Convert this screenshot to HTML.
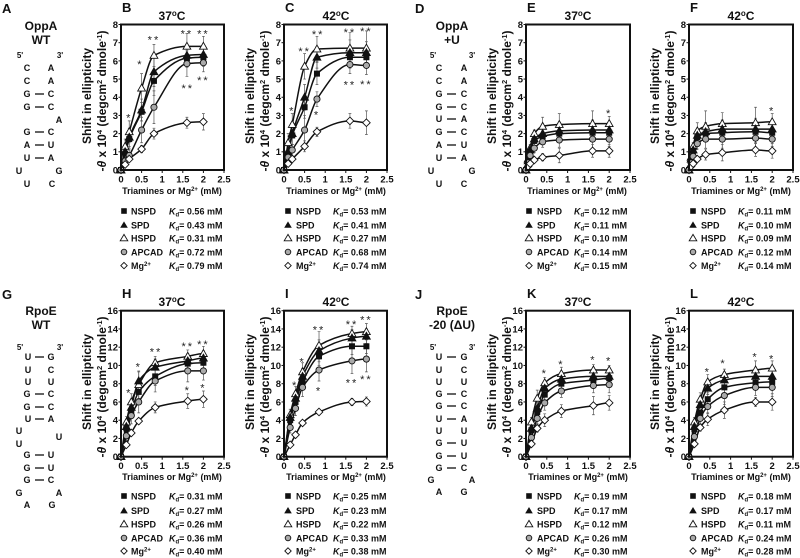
<!DOCTYPE html>
<html lang="en">
<head>
<meta charset="utf-8">
<title>Polyamine binding to RNA: shift in ellipticity</title>
<style>
html,body{margin:0;padding:0;background:#fff;}
svg{display:block;filter:blur(0.35px);}
text{font-family:"Liberation Sans",Arial,sans-serif;font-weight:bold;fill:#111;}
.plet{font-size:13px;}
.ttl{font-size:12px;text-anchor:middle;}
.rt{font-size:12px;text-anchor:middle;}
.n{font-size:9px;text-anchor:middle;}
.e{font-size:8px;text-anchor:middle;}
.lg{font-size:9px;}
.yl{font-size:12px;text-anchor:middle;}
.xl{font-size:9px;text-anchor:middle;}
.bp{stroke:#111;stroke-width:1.3;}
</style>
</head>
<body>
<svg id="figure" width="800" height="558" viewBox="0 0 800 558" xmlns="http://www.w3.org/2000/svg">
<defs>
<g id="lm-nspd"><rect x="-2.8" y="-2.8" width="5.6" height="5.6" fill="#111"/></g>
<g id="lm-spd"><path d="M0,-3.6 L3.8,2.8 L-3.8,2.8 Z" fill="#111"/></g>
<g id="lm-hspd"><path d="M0,-3.6 L3.8,2.8 L-3.8,2.8 Z" fill="#fff" stroke="#111" stroke-width="0.9"/></g>
<g id="lm-apcad"><circle r="2.8" fill="#aaa" stroke="#111" stroke-width="0.9"/></g>
<g id="lm-mg"><path d="M0,-3.2 L3.2,0 L0,3.2 L-3.2,0 Z" fill="#fff" stroke="#111" stroke-width="0.9"/></g>
</defs>

<g>
<text class="plet" x="2" y="13">A</text>
<text class="plet" x="122" y="12">B</text>
<text class="plet" x="285" y="12">C</text>
<text class="plet" x="415" y="13">D</text>
<text class="plet" x="527" y="12">E</text>
<text class="plet" x="690" y="12">F</text>
<text class="plet" x="2" y="299">G</text>
<text class="plet" x="122" y="298">H</text>
<text class="plet" x="285" y="298">I</text>
<text class="plet" x="415" y="299">J</text>
<text class="plet" x="527" y="298">K</text>
<text class="plet" x="690" y="298">L</text>
</g>

<g>
<text class="rt" x="41" y="30">OppA</text><text class="rt" x="41" y="44">WT</text>
<text class="e" x="20" y="58">5'</text><text class="e" x="60" y="58">3'</text>
<text class="n" x="27" y="71">C</text><text class="n" x="51" y="71">A</text>
<text class="n" x="27" y="84">C</text><text class="n" x="51" y="84">A</text>
<text class="n" x="27" y="97">G</text><text class="n" x="51" y="97">C</text><line class="bp" x1="35" x2="44" y1="94" y2="94"/>
<text class="n" x="27" y="110">G</text><text class="n" x="51" y="110">C</text><line class="bp" x1="35" x2="44" y1="107" y2="107"/>
<text class="n" x="59" y="123">A</text>
<text class="n" x="27" y="135">G</text><text class="n" x="51" y="135">C</text><line class="bp" x1="35" x2="44" y1="132" y2="132"/>
<text class="n" x="27" y="148">A</text><text class="n" x="51" y="148">U</text><line class="bp" x1="35" x2="44" y1="145" y2="145"/>
<text class="n" x="27" y="161">U</text><text class="n" x="51" y="161">A</text><line class="bp" x1="35" x2="44" y1="158" y2="158"/>
<text class="n" x="19" y="174">U</text><text class="n" x="59" y="174">G</text>
<text class="n" x="27" y="187">U</text><text class="n" x="52" y="187">C</text>
</g>

<g>
<text class="rt" x="452" y="30">OppA</text><text class="rt" x="452" y="44">+U</text>
<text class="e" x="433" y="58">5'</text><text class="e" x="472" y="58">3'</text>
<text class="n" x="439" y="71">C</text><text class="n" x="464" y="71">A</text>
<text class="n" x="439" y="84">C</text><text class="n" x="464" y="84">A</text>
<text class="n" x="439" y="97">G</text><text class="n" x="464" y="97">C</text><line class="bp" x1="447" x2="456" y1="94" y2="94"/>
<text class="n" x="439" y="110">G</text><text class="n" x="464" y="110">C</text><line class="bp" x1="447" x2="456" y1="107" y2="107"/>
<text class="n" x="439" y="122">U</text><text class="n" x="464" y="122">A</text><line class="bp" x1="447" x2="456" y1="119" y2="119"/>
<text class="n" x="439" y="135">G</text><text class="n" x="464" y="135">C</text><line class="bp" x1="447" x2="456" y1="132" y2="132"/>
<text class="n" x="439" y="148">A</text><text class="n" x="464" y="148">U</text><line class="bp" x1="447" x2="456" y1="145" y2="145"/>
<text class="n" x="439" y="161">U</text><text class="n" x="464" y="161">A</text><line class="bp" x1="447" x2="456" y1="158" y2="158"/>
<text class="n" x="431" y="174">U</text><text class="n" x="472" y="174">G</text>
<text class="n" x="439" y="187">U</text><text class="n" x="464" y="187">C</text>
</g>

<g>
<text class="rt" x="41" y="315">RpoE</text><text class="rt" x="41" y="329">WT</text>
<text class="e" x="20" y="350">5'</text><text class="e" x="60" y="350">3'</text>
<text class="n" x="28" y="360">U</text><text class="n" x="51" y="360">G</text><line class="bp" x1="35" x2="44" y1="357" y2="357"/>
<text class="n" x="28" y="373">U</text><text class="n" x="51" y="373">C</text>
<text class="n" x="28" y="385">U</text><text class="n" x="51" y="385">U</text>
<text class="n" x="27" y="397">G</text><text class="n" x="51" y="397">C</text><line class="bp" x1="35" x2="44" y1="394" y2="394"/>
<text class="n" x="27" y="410">G</text><text class="n" x="51" y="410">C</text><line class="bp" x1="35" x2="44" y1="407" y2="407"/>
<text class="n" x="28" y="422">U</text><text class="n" x="51" y="422">A</text><line class="bp" x1="35" x2="44" y1="419" y2="419"/>
<text class="n" x="19" y="434">U</text><text class="n" x="59" y="440">U</text><text class="n" x="19" y="447">U</text>
<text class="n" x="27" y="458">G</text><text class="n" x="51" y="458">U</text><line class="bp" x1="35" x2="44" y1="455" y2="455"/>
<text class="n" x="27" y="471">G</text><text class="n" x="51" y="471">U</text><line class="bp" x1="35" x2="44" y1="468" y2="468"/>
<text class="n" x="27" y="483">G</text><text class="n" x="51" y="483">C</text><line class="bp" x1="35" x2="44" y1="480" y2="480"/>
<text class="n" x="19" y="496">G</text><text class="n" x="59" y="496">A</text>
<text class="n" x="27" y="508">A</text><text class="n" x="52" y="508">G</text>
</g>

<g>
<text class="rt" x="452" y="315">RpoE</text><text class="rt" x="452" y="329">-20 (ΔU)</text>
<text class="e" x="433" y="350">5'</text><text class="e" x="472" y="350">3'</text>
<text class="n" x="439" y="360">U</text><text class="n" x="464" y="360">G</text><line class="bp" x1="447" x2="456" y1="357" y2="357"/>
<text class="n" x="439" y="373">U</text><text class="n" x="464" y="373">C</text>
<text class="n" x="439" y="385">U</text><text class="n" x="464" y="385">U</text>
<text class="n" x="439" y="397">G</text><text class="n" x="464" y="397">C</text><line class="bp" x1="447" x2="456" y1="394" y2="394"/>
<text class="n" x="439" y="409">G</text><text class="n" x="464" y="409">C</text><line class="bp" x1="447" x2="456" y1="406" y2="406"/>
<text class="n" x="439" y="422">U</text><text class="n" x="464" y="422">A</text><line class="bp" x1="447" x2="456" y1="419" y2="419"/>
<text class="n" x="439" y="434">U</text><text class="n" x="464" y="434">U</text>
<text class="n" x="439" y="446">G</text><text class="n" x="464" y="446">U</text><line class="bp" x1="447" x2="456" y1="443" y2="443"/>
<text class="n" x="439" y="459">G</text><text class="n" x="464" y="459">U</text><line class="bp" x1="447" x2="456" y1="456" y2="456"/>
<text class="n" x="439" y="471">G</text><text class="n" x="464" y="471">C</text><line class="bp" x1="447" x2="456" y1="468" y2="468"/>
<text class="n" x="431" y="483">G</text><text class="n" x="472" y="483">A</text>
<text class="n" x="439" y="495">A</text><text class="n" x="464" y="495">G</text>
</g>

<g>
<text class="ttl" x="172" y="20">37<tspan font-size="8" dy="-4">o</tspan><tspan dy="4">C</tspan></text>
<text class="ttl" x="336" y="20">42<tspan font-size="8" dy="-4">o</tspan><tspan dy="4">C</tspan></text>
<text class="ttl" x="578" y="20">37<tspan font-size="8" dy="-4">o</tspan><tspan dy="4">C</tspan></text>
<text class="ttl" x="741" y="20">42<tspan font-size="8" dy="-4">o</tspan><tspan dy="4">C</tspan></text>
<text class="ttl" x="172" y="306">37<tspan font-size="8" dy="-4">o</tspan><tspan dy="4">C</tspan></text>
<text class="ttl" x="336" y="306">42<tspan font-size="8" dy="-4">o</tspan><tspan dy="4">C</tspan></text>
<text class="ttl" x="578" y="306">37<tspan font-size="8" dy="-4">o</tspan><tspan dy="4">C</tspan></text>
<text class="ttl" x="741" y="306">42<tspan font-size="8" dy="-4">o</tspan><tspan dy="4">C</tspan></text>
</g>

<g>
<text class="yl" transform="translate(91,96) rotate(-90)">Shift in ellipticity</text>
<text class="yl" transform="translate(106,101) rotate(-90)">-<tspan font-style="italic">θ</tspan> x 10<tspan font-size="7.5" dy="-4">4</tspan><tspan dy="4"> (degcm</tspan><tspan font-size="7.5" dy="-4">2</tspan><tspan dy="4"> dmole</tspan><tspan font-size="7.5" dy="-4">-1</tspan><tspan dy="4">)</tspan></text>
<text class="yl" transform="translate(254,96) rotate(-90)">Shift in ellipticity</text>
<text class="yl" transform="translate(269,101) rotate(-90)">-<tspan font-style="italic">θ</tspan> x 10<tspan font-size="7.5" dy="-4">4</tspan><tspan dy="4"> (degcm</tspan><tspan font-size="7.5" dy="-4">2</tspan><tspan dy="4"> dmole</tspan><tspan font-size="7.5" dy="-4">-1</tspan><tspan dy="4">)</tspan></text>
<text class="yl" transform="translate(496,96) rotate(-90)">Shift in ellipticity</text>
<text class="yl" transform="translate(511,101) rotate(-90)">-<tspan font-style="italic">θ</tspan> x 10<tspan font-size="7.5" dy="-4">4</tspan><tspan dy="4"> (degcm</tspan><tspan font-size="7.5" dy="-4">2</tspan><tspan dy="4"> dmole</tspan><tspan font-size="7.5" dy="-4">-1</tspan><tspan dy="4">)</tspan></text>
<text class="yl" transform="translate(659,96) rotate(-90)">Shift in ellipticity</text>
<text class="yl" transform="translate(674,101) rotate(-90)">-<tspan font-style="italic">θ</tspan> x 10<tspan font-size="7.5" dy="-4">4</tspan><tspan dy="4"> (degcm</tspan><tspan font-size="7.5" dy="-4">2</tspan><tspan dy="4"> dmole</tspan><tspan font-size="7.5" dy="-4">-1</tspan><tspan dy="4">)</tspan></text>
<text class="yl" transform="translate(91,382) rotate(-90)">Shift in ellipticity</text>
<text class="yl" transform="translate(106,387) rotate(-90)">-<tspan font-style="italic">θ</tspan> x 10<tspan font-size="7.5" dy="-4">4</tspan><tspan dy="4"> (degcm</tspan><tspan font-size="7.5" dy="-4">2</tspan><tspan dy="4"> dmole</tspan><tspan font-size="7.5" dy="-4">-1</tspan><tspan dy="4">)</tspan></text>
<text class="yl" transform="translate(254,382) rotate(-90)">Shift in ellipticity</text>
<text class="yl" transform="translate(269,387) rotate(-90)">-<tspan font-style="italic">θ</tspan> x 10<tspan font-size="7.5" dy="-4">4</tspan><tspan dy="4"> (degcm</tspan><tspan font-size="7.5" dy="-4">2</tspan><tspan dy="4"> dmole</tspan><tspan font-size="7.5" dy="-4">-1</tspan><tspan dy="4">)</tspan></text>
<text class="yl" transform="translate(496,382) rotate(-90)">Shift in ellipticity</text>
<text class="yl" transform="translate(511,387) rotate(-90)">-<tspan font-style="italic">θ</tspan> x 10<tspan font-size="7.5" dy="-4">4</tspan><tspan dy="4"> (degcm</tspan><tspan font-size="7.5" dy="-4">2</tspan><tspan dy="4"> dmole</tspan><tspan font-size="7.5" dy="-4">-1</tspan><tspan dy="4">)</tspan></text>
<text class="yl" transform="translate(659,382) rotate(-90)">Shift in ellipticity</text>
<text class="yl" transform="translate(674,387) rotate(-90)">-<tspan font-style="italic">θ</tspan> x 10<tspan font-size="7.5" dy="-4">4</tspan><tspan dy="4"> (degcm</tspan><tspan font-size="7.5" dy="-4">2</tspan><tspan dy="4"> dmole</tspan><tspan font-size="7.5" dy="-4">-1</tspan><tspan dy="4">)</tspan></text>
</g>

<g>
<text class="xl" x="172" y="194">Triamines or Mg<tspan font-size="6" dy="-3">2+</tspan><tspan dy="3"> (mM)</tspan></text>
<text class="xl" x="336" y="194">Triamines or Mg<tspan font-size="6" dy="-3">2+</tspan><tspan dy="3"> (mM)</tspan></text>
<text class="xl" x="577" y="194">Triamines or Mg<tspan font-size="6" dy="-3">2+</tspan><tspan dy="3"> (mM)</tspan></text>
<text class="xl" x="741" y="194">Triamines or Mg<tspan font-size="6" dy="-3">2+</tspan><tspan dy="3"> (mM)</tspan></text>
<text class="xl" x="172" y="480">Triamines or Mg<tspan font-size="6" dy="-3">2+</tspan><tspan dy="3"> (mM)</tspan></text>
<text class="xl" x="336" y="480">Triamines or Mg<tspan font-size="6" dy="-3">2+</tspan><tspan dy="3"> (mM)</tspan></text>
<text class="xl" x="578" y="480">Triamines or Mg<tspan font-size="6" dy="-3">2+</tspan><tspan dy="3"> (mM)</tspan></text>
<text class="xl" x="741" y="480">Triamines or Mg<tspan font-size="6" dy="-3">2+</tspan><tspan dy="3"> (mM)</tspan></text>
</g>

<g class="lg">
<use href="#lm-nspd" x="124" y="211"/><text class="lg" x="131" y="214.3">NSPD</text><text class="lg" x="169" y="214.3"><tspan font-style="italic">K</tspan><tspan font-size="6" dy="2">d</tspan><tspan dy="-2">= 0.56 mM</tspan></text>
<use href="#lm-spd" x="124" y="225"/><text class="lg" x="131" y="228.3">SPD</text><text class="lg" x="169" y="228.3"><tspan font-style="italic">K</tspan><tspan font-size="6" dy="2">d</tspan><tspan dy="-2">= 0.43 mM</tspan></text>
<use href="#lm-hspd" x="124" y="238"/><text class="lg" x="131" y="241.3">HSPD</text><text class="lg" x="169" y="241.3"><tspan font-style="italic">K</tspan><tspan font-size="6" dy="2">d</tspan><tspan dy="-2">= 0.31 mM</tspan></text>
<use href="#lm-apcad" x="124" y="252"/><text class="lg" x="131" y="255.3">APCAD</text><text class="lg" x="169" y="255.3"><tspan font-style="italic">K</tspan><tspan font-size="6" dy="2">d</tspan><tspan dy="-2">= 0.72 mM</tspan></text>
<use href="#lm-mg" x="124" y="265.6"/><text class="lg" x="131" y="268.9">Mg<tspan font-size="6" dy="-3">2+</tspan></text><text class="lg" x="169" y="268.9"><tspan font-style="italic">K</tspan><tspan font-size="6" dy="2">d</tspan><tspan dy="-2">= 0.79 mM</tspan></text>
</g>
<g>
<use href="#lm-nspd" x="288" y="211"/><text class="lg" x="296" y="214.3">NSPD</text><text class="lg" x="333" y="214.3"><tspan font-style="italic">K</tspan><tspan font-size="6" dy="2">d</tspan><tspan dy="-2">= 0.53 mM</tspan></text>
<use href="#lm-spd" x="288" y="225"/><text class="lg" x="296" y="228.3">SPD</text><text class="lg" x="333" y="228.3"><tspan font-style="italic">K</tspan><tspan font-size="6" dy="2">d</tspan><tspan dy="-2">= 0.41 mM</tspan></text>
<use href="#lm-hspd" x="288" y="238"/><text class="lg" x="296" y="241.3">HSPD</text><text class="lg" x="333" y="241.3"><tspan font-style="italic">K</tspan><tspan font-size="6" dy="2">d</tspan><tspan dy="-2">= 0.27 mM</tspan></text>
<use href="#lm-apcad" x="288" y="252"/><text class="lg" x="296" y="255.3">APCAD</text><text class="lg" x="333" y="255.3"><tspan font-style="italic">K</tspan><tspan font-size="6" dy="2">d</tspan><tspan dy="-2">= 0.68 mM</tspan></text>
<use href="#lm-mg" x="288" y="265.6"/><text class="lg" x="296" y="268.9">Mg<tspan font-size="6" dy="-3">2+</tspan></text><text class="lg" x="333" y="268.9"><tspan font-style="italic">K</tspan><tspan font-size="6" dy="2">d</tspan><tspan dy="-2">= 0.74 mM</tspan></text>
</g>
<g>
<use href="#lm-nspd" x="529" y="211"/><text class="lg" x="537" y="214.3">NSPD</text><text class="lg" x="574" y="214.3"><tspan font-style="italic">K</tspan><tspan font-size="6" dy="2">d</tspan><tspan dy="-2">= 0.12 mM</tspan></text>
<use href="#lm-spd" x="529" y="225"/><text class="lg" x="537" y="228.3">SPD</text><text class="lg" x="574" y="228.3"><tspan font-style="italic">K</tspan><tspan font-size="6" dy="2">d</tspan><tspan dy="-2">= 0.11 mM</tspan></text>
<use href="#lm-hspd" x="529" y="238"/><text class="lg" x="537" y="241.3">HSPD</text><text class="lg" x="574" y="241.3"><tspan font-style="italic">K</tspan><tspan font-size="6" dy="2">d</tspan><tspan dy="-2">= 0.10 mM</tspan></text>
<use href="#lm-apcad" x="529" y="252"/><text class="lg" x="537" y="255.3">APCAD</text><text class="lg" x="574" y="255.3"><tspan font-style="italic">K</tspan><tspan font-size="6" dy="2">d</tspan><tspan dy="-2">= 0.14 mM</tspan></text>
<use href="#lm-mg" x="529" y="265.6"/><text class="lg" x="537" y="268.9">Mg<tspan font-size="6" dy="-3">2+</tspan></text><text class="lg" x="574" y="268.9"><tspan font-style="italic">K</tspan><tspan font-size="6" dy="2">d</tspan><tspan dy="-2">= 0.15 mM</tspan></text>
</g>
<g>
<use href="#lm-nspd" x="693" y="211"/><text class="lg" x="701" y="214.3">NSPD</text><text class="lg" x="738" y="214.3"><tspan font-style="italic">K</tspan><tspan font-size="6" dy="2">d</tspan><tspan dy="-2">= 0.11 mM</tspan></text>
<use href="#lm-spd" x="693" y="225"/><text class="lg" x="701" y="228.3">SPD</text><text class="lg" x="738" y="228.3"><tspan font-style="italic">K</tspan><tspan font-size="6" dy="2">d</tspan><tspan dy="-2">= 0.10 mM</tspan></text>
<use href="#lm-hspd" x="693" y="238"/><text class="lg" x="701" y="241.3">HSPD</text><text class="lg" x="738" y="241.3"><tspan font-style="italic">K</tspan><tspan font-size="6" dy="2">d</tspan><tspan dy="-2">= 0.09 mM</tspan></text>
<use href="#lm-apcad" x="693" y="252"/><text class="lg" x="701" y="255.3">APCAD</text><text class="lg" x="738" y="255.3"><tspan font-style="italic">K</tspan><tspan font-size="6" dy="2">d</tspan><tspan dy="-2">= 0.12 mM</tspan></text>
<use href="#lm-mg" x="693" y="265.6"/><text class="lg" x="701" y="268.9">Mg<tspan font-size="6" dy="-3">2+</tspan></text><text class="lg" x="738" y="268.9"><tspan font-style="italic">K</tspan><tspan font-size="6" dy="2">d</tspan><tspan dy="-2">= 0.14 mM</tspan></text>
</g>
<g>
<use href="#lm-nspd" x="124" y="496"/><text class="lg" x="131" y="499.3">NSPD</text><text class="lg" x="169" y="499.3"><tspan font-style="italic">K</tspan><tspan font-size="6" dy="2">d</tspan><tspan dy="-2">= 0.31 mM</tspan></text>
<use href="#lm-spd" x="124" y="510.6"/><text class="lg" x="131" y="513.9">SPD</text><text class="lg" x="169" y="513.9"><tspan font-style="italic">K</tspan><tspan font-size="6" dy="2">d</tspan><tspan dy="-2">= 0.27 mM</tspan></text>
<use href="#lm-hspd" x="124" y="524"/><text class="lg" x="131" y="527.3">HSPD</text><text class="lg" x="169" y="527.3"><tspan font-style="italic">K</tspan><tspan font-size="6" dy="2">d</tspan><tspan dy="-2">= 0.26 mM</tspan></text>
<use href="#lm-apcad" x="124" y="538"/><text class="lg" x="131" y="541.3">APCAD</text><text class="lg" x="169" y="541.3"><tspan font-style="italic">K</tspan><tspan font-size="6" dy="2">d</tspan><tspan dy="-2">= 0.36 mM</tspan></text>
<use href="#lm-mg" x="124" y="551"/><text class="lg" x="131" y="554.3">Mg<tspan font-size="6" dy="-3">2+</tspan></text><text class="lg" x="169" y="554.3"><tspan font-style="italic">K</tspan><tspan font-size="6" dy="2">d</tspan><tspan dy="-2">= 0.40 mM</tspan></text>
</g>
<g>
<use href="#lm-nspd" x="288" y="496"/><text class="lg" x="296" y="499.3">NSPD</text><text class="lg" x="333" y="499.3"><tspan font-style="italic">K</tspan><tspan font-size="6" dy="2">d</tspan><tspan dy="-2">= 0.25 mM</tspan></text>
<use href="#lm-spd" x="288" y="510.6"/><text class="lg" x="296" y="513.9">SPD</text><text class="lg" x="333" y="513.9"><tspan font-style="italic">K</tspan><tspan font-size="6" dy="2">d</tspan><tspan dy="-2">= 0.23 mM</tspan></text>
<use href="#lm-hspd" x="288" y="524"/><text class="lg" x="296" y="527.3">HSPD</text><text class="lg" x="333" y="527.3"><tspan font-style="italic">K</tspan><tspan font-size="6" dy="2">d</tspan><tspan dy="-2">= 0.22 mM</tspan></text>
<use href="#lm-apcad" x="288" y="538"/><text class="lg" x="296" y="541.3">APCAD</text><text class="lg" x="333" y="541.3"><tspan font-style="italic">K</tspan><tspan font-size="6" dy="2">d</tspan><tspan dy="-2">= 0.33 mM</tspan></text>
<use href="#lm-mg" x="288" y="551"/><text class="lg" x="296" y="554.3">Mg<tspan font-size="6" dy="-3">2+</tspan></text><text class="lg" x="333" y="554.3"><tspan font-style="italic">K</tspan><tspan font-size="6" dy="2">d</tspan><tspan dy="-2">= 0.38 mM</tspan></text>
</g>
<g>
<use href="#lm-nspd" x="529" y="496"/><text class="lg" x="537" y="499.3">NSPD</text><text class="lg" x="574" y="499.3"><tspan font-style="italic">K</tspan><tspan font-size="6" dy="2">d</tspan><tspan dy="-2">= 0.19 mM</tspan></text>
<use href="#lm-spd" x="529" y="510.6"/><text class="lg" x="537" y="513.9">SPD</text><text class="lg" x="574" y="513.9"><tspan font-style="italic">K</tspan><tspan font-size="6" dy="2">d</tspan><tspan dy="-2">= 0.17 mM</tspan></text>
<use href="#lm-hspd" x="529" y="524"/><text class="lg" x="537" y="527.3">HSPD</text><text class="lg" x="574" y="527.3"><tspan font-style="italic">K</tspan><tspan font-size="6" dy="2">d</tspan><tspan dy="-2">= 0.12 mM</tspan></text>
<use href="#lm-apcad" x="529" y="538"/><text class="lg" x="537" y="541.3">APCAD</text><text class="lg" x="574" y="541.3"><tspan font-style="italic">K</tspan><tspan font-size="6" dy="2">d</tspan><tspan dy="-2">= 0.26 mM</tspan></text>
<use href="#lm-mg" x="529" y="551"/><text class="lg" x="537" y="554.3">Mg<tspan font-size="6" dy="-3">2+</tspan></text><text class="lg" x="574" y="554.3"><tspan font-style="italic">K</tspan><tspan font-size="6" dy="2">d</tspan><tspan dy="-2">= 0.30 mM</tspan></text>
</g>
<g>
<use href="#lm-nspd" x="693" y="496"/><text class="lg" x="701" y="499.3">NSPD</text><text class="lg" x="738" y="499.3"><tspan font-style="italic">K</tspan><tspan font-size="6" dy="2">d</tspan><tspan dy="-2">= 0.18 mM</tspan></text>
<use href="#lm-spd" x="693" y="510.6"/><text class="lg" x="701" y="513.9">SPD</text><text class="lg" x="738" y="513.9"><tspan font-style="italic">K</tspan><tspan font-size="6" dy="2">d</tspan><tspan dy="-2">= 0.17 mM</tspan></text>
<use href="#lm-hspd" x="693" y="524"/><text class="lg" x="701" y="527.3">HSPD</text><text class="lg" x="738" y="527.3"><tspan font-style="italic">K</tspan><tspan font-size="6" dy="2">d</tspan><tspan dy="-2">= 0.11 mM</tspan></text>
<use href="#lm-apcad" x="693" y="538"/><text class="lg" x="701" y="541.3">APCAD</text><text class="lg" x="738" y="541.3"><tspan font-style="italic">K</tspan><tspan font-size="6" dy="2">d</tspan><tspan dy="-2">= 0.24 mM</tspan></text>
<use href="#lm-mg" x="693" y="551"/><text class="lg" x="701" y="554.3">Mg<tspan font-size="6" dy="-3">2+</tspan></text><text class="lg" x="738" y="554.3"><tspan font-style="italic">K</tspan><tspan font-size="6" dy="2">d</tspan><tspan dy="-2">= 0.28 mM</tspan></text>
</g>

<g id="charts"></g>
</svg>

<script>
// Shared tick values
const xTicks = [0, 0.5, 1, 1.5, 2, 2.5];
const xTickLabels = ['0', '0.5', '1', '1.5', '2', '2.5'];
const yTicksTop = [0, 1, 2, 3, 4, 5, 6, 7, 8];
const yTicksBottom = [0, 2, 4, 6, 8, 10, 12, 14, 16];

// Panel B
const concB = [0, 0.1, 0.2, 0.5, 0.8, 1.6, 2];
const nspdB = [0, 0.9, 1.7, 3.2, 4.9, 6.15, 6.2];
const spdB = [0, 1.0, 1.8, 3.3, 5.4, 6.3, 6.35];
const hspdB = [0, 1.3, 2.1, 4.5, 6.3, 6.8, 6.8];
const apcadB = [0, 0.5, 0.8, 2.2, 3.45, 5.85, 5.9];
const mgB = [0, 0.3, 0.6, 1.15, 2.0, 2.6, 2.65];
const nspdErrB = [0, 0.3, 0.5, 0.5, 0.8, 0.5, 0.5];
const spdErrB = [0, 0.3, 0.5, 0.6, 0.8, 0.6, 0.5];
const hspdErrB = [0, 0.4, 0.6, 0.8, 0.6, 0.7, 0.55];
const apcadErrB = [0, 0.2, 0.3, 0.7, 0.9, 0.7, 0.5];
const mgErrB = [0, 0.1, 0.15, 0.2, 0.3, 0.3, 0.45];
const starXB = [0.2, 0.47, 0.8, 1.6, 2, 1.62, 2];
const starYB = [3.0, 5.94, 7.3, 7.63, 7.63, 4.63, 5.06];
const starTextB = ['*', '*', '**', '**', '**', '**', '**'];

// Panel C
const concC = [0, 0.1, 0.2, 0.5, 0.8, 1.6, 2];
const nspdC = [0, 0.9, 1.9, 3.45, 5.3, 6.2, 6.2];
const spdC = [0, 1.0, 2.0, 4.0, 6.2, 6.45, 6.45];
const hspdC = [0, 1.5, 2.5, 5.7, 6.65, 6.7, 6.7];
const apcadC = [0, 0.7, 1.1, 2.2, 3.9, 5.8, 5.75];
const mgC = [0, 0.35, 0.6, 1.3, 2.1, 2.7, 2.6];
const nspdErrC = [0, 0.3, 0.5, 0.6, 0.6, 0.6, 0.6];
const spdErrC = [0, 0.4, 0.6, 0.7, 0.6, 0.7, 0.6];
const hspdErrC = [0, 0.5, 0.6, 0.7, 0.7, 0.85, 0.95];
const apcadErrC = [0, 0.2, 0.3, 0.8, 0.4, 0.5, 0.5];
const mgErrC = [0, 0.1, 0.15, 0.3, 0.25, 0.4, 0.65];
const starXC = [0.2, 0.5, 0.83, 1.6, 2, 0.8, 1.6, 2];
const starYC = [3.4, 6.66, 7.6, 7.72, 7.76, 3.16, 4.82, 4.85];
const starTextC = ['*', '**', '**', '**', '**', '*', '**', '**'];

// Panel E
const concE = [0, 0.05, 0.1, 0.2, 0.4, 0.8, 1.6, 2];
const nspdE = [0, 0.5, 1.0, 1.6, 1.85, 2.0, 2.05, 2.05];
const spdE = [0, 0.5, 1.1, 1.7, 2.0, 2.15, 2.2, 2.2];
const hspdE = [0, 0.6, 1.2, 2.0, 2.4, 2.5, 2.55, 2.55];
const apcadE = [0, 0.4, 0.8, 1.2, 1.55, 1.65, 1.7, 1.7];
const mgE = [0, 0.2, 0.35, 0.55, 0.7, 0.8, 1.05, 1.05];
const nspdErrE = [0, 0.1, 0.2, 0.25, 0.3, 0.4, 0.5, 0.4];
const spdErrE = [0, 0.1, 0.2, 0.25, 0.35, 0.45, 0.55, 0.4];
const hspdErrE = [0, 0.1, 0.2, 0.2, 0.5, 0.6, 0.7, 0.4];
const apcadErrE = [0, 0.1, 0.15, 0.25, 0.3, 0.4, 0.5, 0.4];
const mgErrE = [0, 0.05, 0.1, 0.15, 0.2, 0.4, 0.35, 0.35];
const starXE = [2];
const starYE = [3.25];
const starTextE = ['*'];

// Panel F
const concF = [0, 0.05, 0.1, 0.2, 0.4, 0.8, 1.6, 2];
const nspdF = [0, 0.5, 1.05, 1.8, 2.0, 2.05, 2.1, 2.05];
const spdF = [0, 0.6, 1.1, 1.9, 2.1, 2.25, 2.25, 2.25];
const hspdF = [0, 0.7, 1.3, 2.15, 2.4, 2.55, 2.6, 2.65];
const apcadF = [0, 0.4, 0.75, 1.45, 1.7, 1.7, 1.75, 1.7];
const mgF = [0, 0.2, 0.35, 0.6, 0.85, 0.95, 1.1, 1.05];
const nspdErrF = [0, 0.1, 0.2, 0.3, 0.4, 0.5, 0.6, 0.5];
const spdErrF = [0, 0.1, 0.2, 0.3, 0.5, 0.5, 0.6, 0.5];
const hspdErrF = [0, 0.1, 0.2, 0.45, 0.85, 0.6, 0.85, 0.45];
const apcadErrF = [0, 0.1, 0.15, 0.3, 0.5, 0.5, 0.5, 0.4];
const mgErrF = [0, 0.05, 0.1, 0.15, 0.3, 0.45, 0.35, 0.4];
const starXF = [2];
const starYF = [3.4];
const starTextF = ['*'];

// Panel H
const concH = [0, 0.13, 0.25, 0.43, 0.83, 1.62, 2];
const nspdH = [0, 3.1, 5.0, 7.1, 8.8, 10.2, 10.3];
const spdH = [0, 3.3, 5.4, 8.3, 9.8, 10.5, 10.8];
const hspdH = [0, 3.8, 6.0, 7.9, 10.3, 11.0, 11.3];
const apcadH = [0, 2.3, 4.5, 6.0, 8.3, 9.4, 9.4];
const mgH = [0, 1.3, 2.6, 3.9, 5.4, 6.1, 6.3];
const nspdErrH = [0, 0.5, 0.8, 1.0, 1.0, 0.8, 0.8];
const spdErrH = [0, 0.5, 0.8, 1.0, 0.9, 0.8, 0.8];
const hspdErrH = [0, 0.6, 0.9, 1.5, 0.7, 0.7, 0.8];
const apcadErrH = [0, 0.5, 0.9, 1.2, 1.2, 1.2, 1.0];
const mgErrH = [0, 0.3, 0.3, 0.3, 0.6, 0.8, 0.9];
const starXH = [0.2, 0.43, 0.85, 1.62, 2, 1.62, 2];
const starYH = [7.3, 10.1, 11.75, 12.4, 12.6, 7.55, 7.85];
const starTextH = ['*', '*', '**', '**', '**', '*', '*'];

// Panel I
const concI = [0, 0.15, 0.28, 0.45, 0.85, 1.65, 2];
const nspdI = [0, 4.0, 6.0, 8.2, 11.0, 12.1, 12.1];
const spdI = [0, 4.3, 6.4, 8.8, 11.6, 13.0, 13.2];
const hspdI = [0, 4.6, 6.9, 9.3, 12.2, 13.5, 13.7];
const apcadI = [0, 3.2, 5.3, 7.6, 9.5, 10.5, 10.7];
const mgI = [0, 1.3, 2.4, 3.7, 4.9, 6.0, 6.05];
const nspdErrI = [0, 0.5, 0.7, 0.9, 1.0, 0.9, 0.8];
const spdErrI = [0, 0.5, 0.7, 0.9, 1.2, 0.9, 0.8];
const hspdErrI = [0, 0.6, 0.8, 1.0, 1.5, 0.8, 0.9];
const apcadErrI = [0, 0.6, 0.8, 1.0, 1.2, 1.4, 1.4];
const mgErrI = [0, 0.2, 0.2, 0.2, 0.3, 0.4, 0.5];
const starXI = [0.27, 0.45, 0.85, 1.65, 2, 0.85, 1.65, 2];
const starYI = [8.1, 10.65, 14.2, 14.8, 15.25, 7.5, 8.4, 8.75];
const starTextI = ['*', '*', '**', '**', '**', '*', '**', '**'];

// Panel K
const concK = [0, 0.13, 0.27, 0.45, 0.85, 1.62, 2];
const nspdK = [0, 2.9, 4.9, 6.8, 8.0, 8.4, 8.6];
const spdK = [0, 3.1, 5.3, 7.5, 8.5, 8.8, 8.8];
const hspdK = [0, 3.8, 6.4, 8.1, 9.1, 9.5, 9.5];
const apcadK = [0, 2.1, 4.2, 5.9, 7.2, 7.8, 7.9];
const mgK = [0, 1.4, 3.1, 4.0, 5.0, 5.6, 5.9];
const nspdErrK = [0, 0.4, 0.6, 0.7, 0.6, 0.7, 0.7];
const spdErrK = [0, 0.4, 0.6, 0.7, 0.6, 0.7, 0.6];
const hspdErrK = [0, 0.5, 0.9, 0.6, 0.7, 0.6, 0.5];
const apcadErrK = [0, 0.4, 0.6, 0.8, 0.7, 0.8, 0.9];
const mgErrK = [0, 0.3, 0.4, 0.7, 0.7, 1.0, 0.8];
const starXK = [0.45, 0.85, 1.62, 2];
const starYK = [9.4, 10.4, 10.9, 10.8];
const starTextK = ['*', '*', '*', '*'];

// Panel L
const concL = [0, 0.13, 0.27, 0.45, 0.85, 1.6, 2];
const nspdL = [0, 3.0, 4.8, 6.3, 7.6, 8.1, 8.2];
const spdL = [0, 3.3, 5.7, 7.5, 8.4, 8.8, 8.8];
const hspdL = [0, 3.8, 6.3, 8.2, 9.0, 9.5, 9.7];
const apcadL = [0, 2.2, 4.2, 5.5, 6.7, 7.6, 7.6];
const mgL = [0, 1.4, 3.2, 4.1, 5.1, 6.0, 6.0];
const nspdErrL = [0, 0.4, 0.6, 0.7, 0.7, 0.8, 0.8];
const spdErrL = [0, 0.4, 0.6, 0.7, 0.7, 0.8, 0.8];
const hspdErrL = [0, 0.5, 0.7, 0.8, 0.6, 1.0, 0.8];
const apcadErrL = [0, 0.4, 0.6, 0.8, 1.0, 0.9, 1.0];
const mgErrL = [0, 0.3, 0.4, 0.7, 0.9, 0.5, 0.9];
const starXL = [0.45, 0.83, 1.6, 2];
const starYL = [9.6, 10.5, 11.2, 11.0];
const starTextL = ['*', '*', '*', '*'];

const SVGNS = 'http://www.w3.org/2000/svg';
const INK = '#111';
const seriesKinds = ['hspd', 'spd', 'nspd', 'apcad', 'mg'];

function mk(tag, parent) {
  const node = document.createElementNS(SVGNS, tag);
  parent.appendChild(node);
  return node;
}

// Monotone cubic path through the data points
function curvePath(px, py) {
  const n = px.length;
  const d = [], m = new Array(n);
  for (let i = 0; i < n - 1; i++) d.push((py[i + 1] - py[i]) / (px[i + 1] - px[i]));
  m[0] = d[0];
  m[n - 1] = 0;
  for (let i = 1; i < n - 1; i++) {
    m[i] = d[i - 1] * d[i] <= 0 ? 0 : 2 * d[i - 1] * d[i] / (d[i - 1] + d[i]);
  }
  let path = 'M' + px[0].toFixed(2) + ',' + py[0].toFixed(2);
  for (let i = 0; i < n - 1; i++) {
    const h = (px[i + 1] - px[i]) / 3;
    path += 'C' + (px[i] + h).toFixed(2) + ',' + (py[i] + m[i] * h).toFixed(2) + ' ' +
      (px[i + 1] - h).toFixed(2) + ',' + (py[i + 1] - m[i + 1] * h).toFixed(2) + ' ' +
      px[i + 1].toFixed(2) + ',' + py[i + 1].toFixed(2);
  }
  return path;
}

function drawMarker(kind, cx, cy, parent) {
  let m;
  if (kind === 'nspd') {
    m = mk('rect', parent);
    m.setAttribute('x', cx - 3);
    m.setAttribute('y', cy - 3);
    m.setAttribute('width', 6);
    m.setAttribute('height', 6);
    m.setAttribute('fill', INK);
  } else if (kind === 'spd' || kind === 'hspd') {
    m = mk('path', parent);
    m.setAttribute('d', 'M' + cx + ',' + (cy - 4) + 'L' + (cx + 3.9) + ',' + (cy + 2.9) + 'L' + (cx - 3.9) + ',' + (cy + 2.9) + 'Z');
    m.setAttribute('fill', kind === 'spd' ? INK : '#fff');
    m.setAttribute('stroke', INK);
    m.setAttribute('stroke-width', 0.9);
  } else if (kind === 'apcad') {
    m = mk('circle', parent);
    m.setAttribute('cx', cx);
    m.setAttribute('cy', cy);
    m.setAttribute('r', 3.1);
    m.setAttribute('fill', '#aaa');
    m.setAttribute('stroke', INK);
    m.setAttribute('stroke-width', 0.9);
  } else {
    m = mk('path', parent);
    m.setAttribute('d', 'M' + cx + ',' + (cy - 3.8) + 'L' + (cx + 3.8) + ',' + cy + 'L' + cx + ',' + (cy + 3.8) + 'L' + (cx - 3.8) + ',' + cy + 'Z');
    m.setAttribute('fill', '#fff');
    m.setAttribute('stroke', INK);
    m.setAttribute('stroke-width', 0.9);
  }
  
  
}

function drawPanel(id, left, right, top, bottom, yMax, yTicks, conc, series, errors, starX, starY, starText) {
  const root = document.getElementById('charts');
  const g = mk('g', root);
  
  

  const xScale = v => left + (v / 2.5) * (right - left);
  const yScale = v => bottom - (v / yMax) * (bottom - top);

  // Error bars
  for (let s = 0; s < seriesKinds.length; s++) {
    for (let i = 0; i < conc.length; i++) {
      const hi = yScale(series[s][i] + errors[s][i]);
      const lo = yScale(series[s][i] - errors[s][i]);
      const ex = xScale(conc[i]);
      if (errors[s][i] <= 0) continue;
      const eb = mk('path', g);
      eb.setAttribute('d', 'M' + ex + ',' + hi + 'V' + lo + 'M' + (ex - 1.4) + ',' + hi + 'H' + (ex + 1.4) + 'M' + (ex - 1.4) + ',' + lo + 'H' + (ex + 1.4));
      eb.setAttribute('stroke', '#555');
      eb.setAttribute('stroke-width', 0.7);
      eb.setAttribute('fill', 'none');
      
      
    }
  }

  // Curves
  for (let s = 0; s < seriesKinds.length; s++) {
    const curve = mk('path', g);
    curve.setAttribute('d', curvePath(conc.map(xScale), series[s].map(yScale)));
    curve.setAttribute('fill', 'none');
    curve.setAttribute('stroke', INK);
    curve.setAttribute('stroke-width', 1.5);
    
    
  }

  // Markers
  for (let s = 0; s < seriesKinds.length; s++) {
    for (let i = 0; i < conc.length; i++) {
      drawMarker(seriesKinds[s], xScale(conc[i]), yScale(series[s][i]), g);
    }
  }

  // Frame
  const frame = mk('rect', g);
  frame.setAttribute('x', left);
  frame.setAttribute('y', top);
  frame.setAttribute('width', right - left);
  frame.setAttribute('height', bottom - top);
  frame.setAttribute('fill', 'none');
  frame.setAttribute('stroke', '#111');
  frame.setAttribute('stroke-width', 2);
  
  

  // X ticks
  for (let i = 0; i < xTicks.length; i++) {
    const tick = mk('line', g);
    tick.setAttribute('x1', xScale(xTicks[i]));
    tick.setAttribute('x2', xScale(xTicks[i]));
    tick.setAttribute('y1', bottom);
    tick.setAttribute('y2', bottom + 3);
    tick.setAttribute('stroke', INK);
    tick.setAttribute('stroke-width', 1);
    
    
    const label = mk('text', g);
    label.setAttribute('x', xScale(xTicks[i]));
    label.setAttribute('y', bottom + 12.5);
    label.setAttribute('text-anchor', 'middle');
    label.setAttribute('font-size', '9.5');
    label.textContent = xTickLabels[i];
    
    
  }

  // Y ticks
  for (let i = 0; i < yTicks.length; i++) {
    const tick = mk('line', g);
    tick.setAttribute('x1', left - 2.5);
    tick.setAttribute('x2', left);
    tick.setAttribute('y1', yScale(yTicks[i]));
    tick.setAttribute('y2', yScale(yTicks[i]));
    tick.setAttribute('stroke', INK);
    tick.setAttribute('stroke-width', 1);
    
    
    const label = mk('text', g);
    label.setAttribute('x', left - 3);
    label.setAttribute('y', yScale(yTicks[i]) + 3.4);
    label.setAttribute('text-anchor', 'end');
    label.setAttribute('font-size', '9.5');
    label.textContent = String(yTicks[i]);
    
    
  }

  // Significance stars
  for (let i = 0; i < starX.length; i++) {
    const star = mk('text', g);
    star.setAttribute('x', xScale(starX[i]));
    star.setAttribute('y', yScale(starY[i]) + 6.2);
    star.setAttribute('text-anchor', 'middle');
    star.setAttribute('font-size', '11');
    star.setAttribute('letter-spacing', '2');
    star.style.fontWeight = 'normal';
    star.style.fill = '#222';
    star.textContent = starText[i];
    
    
  }
}

drawPanel('b', 121, 224, 24.5, 170, 8, yTicksTop, concB,
  [hspdB, spdB, nspdB, apcadB, mgB], [hspdErrB, spdErrB, nspdErrB, apcadErrB, mgErrB], starXB, starYB, starTextB);
drawPanel('c', 284, 387, 24.5, 170, 8, yTicksTop, concC,
  [hspdC, spdC, nspdC, apcadC, mgC], [hspdErrC, spdErrC, nspdErrC, apcadErrC, mgErrC], starXC, starYC, starTextC);
drawPanel('e', 526, 630, 24.5, 170, 8, yTicksTop, concE,
  [hspdE, spdE, nspdE, apcadE, mgE], [hspdErrE, spdErrE, nspdErrE, apcadErrE, mgErrE], starXE, starYE, starTextE);
drawPanel('f', 689, 793, 24.5, 170, 8, yTicksTop, concF,
  [hspdF, spdF, nspdF, apcadF, mgF], [hspdErrF, spdErrF, nspdErrF, apcadErrF, mgErrF], starXF, starYF, starTextF);
drawPanel('h', 121, 224, 310.7, 456.7, 16, yTicksBottom, concH,
  [hspdH, spdH, nspdH, apcadH, mgH], [hspdErrH, spdErrH, nspdErrH, apcadErrH, mgErrH], starXH, starYH, starTextH);
drawPanel('i', 284, 387, 310.7, 456.7, 16, yTicksBottom, concI,
  [hspdI, spdI, nspdI, apcadI, mgI], [hspdErrI, spdErrI, nspdErrI, apcadErrI, mgErrI], starXI, starYI, starTextI);
drawPanel('k', 526, 630, 310.7, 456.7, 16, yTicksBottom, concK,
  [hspdK, spdK, nspdK, apcadK, mgK], [hspdErrK, spdErrK, nspdErrK, apcadErrK, mgErrK], starXK, starYK, starTextK);
drawPanel('l', 689, 793, 310.7, 456.7, 16, yTicksBottom, concL,
  [hspdL, spdL, nspdL, apcadL, mgL], [hspdErrL, spdErrL, nspdErrL, apcadErrL, mgErrL], starXL, starYL, starTextL);
</script>
</body>
</html>
